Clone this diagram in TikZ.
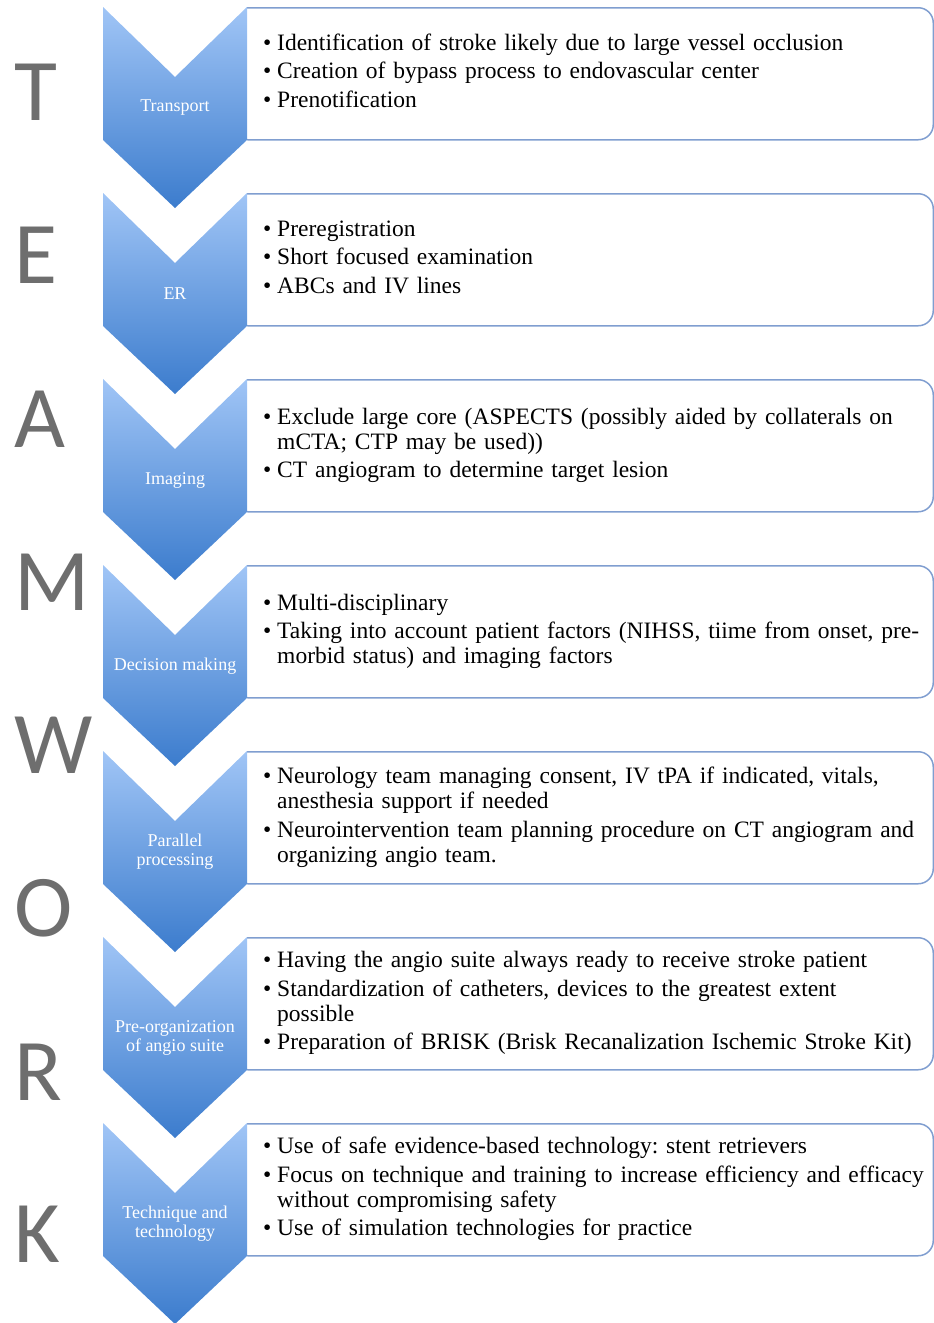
\documentclass[tikz,border=0pt]{standalone}
\usepackage{fontspec}
\setmainfont{Liberation Serif}
\newfontfamily\letterfont{Carlito}
\usepackage{tikz}
\definecolor{chevtop}{RGB}{160,197,246}
\definecolor{chevbot}{RGB}{60,124,205}
\definecolor{boxline}{RGB}{128,158,208}
\definecolor{lettergray}{RGB}{110,110,110}
\tikzset{stepbox/.style={draw=boxline, line width=1.5pt, rounded corners=15pt,
    anchor=north west, minimum width=700.5pt, minimum height=132pt,
    inner xsep=30pt, inner ysep=0pt, text width=640pt, align=left,
    font=\fontsize{23.5}{25}\selectfont\frenchspacing},
    steplabel/.style={text=white, align=center, font=\fontsize{18}{19}\selectfont},
    bigletter/.style={anchor=base west, inner sep=0pt, text=lettergray,
    font=\letterfont\fontsize{88}{88}\selectfont},
    chevron/.pic={\shade[top color=chevtop, bottom color=chevbot]
        (-72,0) -- (0,70) -- (72,0) -- (72,133) -- (0,201) -- (-72,133) -- cycle;},
    }
\newcommand{\bl}{\textbullet &}

\begin{document}
\begin{tikzpicture}[x=1pt,y=-1pt]
\useasboundingbox (0,0) rectangle (934,1323);

% boxes, left side hidden under the chevrons
\begin{scope}
\clip (247,0) rectangle (934,1323);
\node (box1) [stepbox] at (232,7) {\begin{tabular}{@{}l@{\hspace{6pt}}l@{}}
\bl Identification of stroke likely due to large vessel occlusion\\[3.5pt]
\bl Creation of bypass process to endovascular center\\[3.5pt]
\bl Prenotification
\end{tabular}};
\node (box2) [stepbox] at (232,193) {\begin{tabular}{@{}l@{\hspace{6pt}}l@{}}
\bl Preregistration\\[3.5pt]
\bl Short focused examination\\[3.5pt]
\bl ABCs and IV lines
\end{tabular}};
\node (box3) [stepbox] at (232,379) {\begin{tabular}{@{}l@{\hspace{6pt}}l@{}}
\bl Exclude large core (ASPECTS (possibly aided by collaterals on\\
 & mCTA; CTP may be used))\\[3.5pt]
\bl CT angiogram to determine target lesion
\end{tabular}};
\node (box4) [stepbox] at (232,565) {\begin{tabular}{@{}l@{\hspace{6pt}}l@{}}
\bl Multi-disciplinary\\[3.5pt]
\bl Taking into account patient factors (NIHSS, tiime from onset, pre-\\
 & morbid status) and imaging factors
\end{tabular}};
\node (box5) [stepbox] at (232,751) {\begin{tabular}{@{}l@{\hspace{6pt}}l@{}}
\bl Neurology team managing consent, IV tPA if indicated, vitals,\\
 & anesthesia support if needed\\[3.5pt]
\bl Neurointervention team planning procedure on CT angiogram and\\
 & organizing angio team.
\end{tabular}};
\node (box6) [stepbox] at (232,937) {\begin{tabular}{@{}l@{\hspace{6pt}}l@{}}
\bl Having the angio suite always ready to receive stroke patient\\[3.5pt]
\bl Standardization of catheters, devices to the greatest extent\\
 & possible\\[3.5pt]
\bl Preparation of BRISK (Brisk Recanalization Ischemic Stroke Kit)
\end{tabular}};
\node (box7) [stepbox] at (232,1123) {\begin{tabular}{@{}l@{\hspace{6pt}}l@{}}
\bl Use of safe evidence-based technology: stent retrievers\\[3.5pt]
\bl Focus on technique and training to increase efficiency and efficacy\\
 & without compromising safety\\[3.5pt]
\bl Use of simulation technologies for practice
\end{tabular}};
\end{scope}

% chevrons
\pic at (175,7) {chevron};
\pic at (175,193) {chevron};
\pic at (175,379) {chevron};
\pic at (175,565) {chevron};
\pic at (175,751) {chevron};
\pic at (175,937) {chevron};
\pic at (175,1123) {chevron};

\node (lab1) [steplabel] at (175,108) {Transport};
\node (lab2) [steplabel] at (175,294) {ER};
\node (lab3) [steplabel] at (175,480) {Imaging};
\node (lab4) [steplabel] at (175,666) {Decision making};
\node (lab5) [steplabel] at (175,852) {Parallel\\processing};
\node (lab6) [steplabel] at (175,1038) {Pre-organization\\of angio suite};
\node (lab7) [steplabel] at (175,1224) {Technique and\\technology};

% TEAMWORK
\node (tT) [bigletter] at (14,120) {T};
\node (tE) [bigletter] at (14,283) {E};
\node (tA) [bigletter] at (14,447) {A};
\node (tM) [bigletter] at (14,610) {M};
\node (tW) [bigletter] at (14,773) {W};
\node (tO) [bigletter] at (14,936) {O};
\node (tR) [bigletter] at (14,1100) {R};
\node (tK) [bigletter] at (14,1262) {K};
\end{tikzpicture}
\end{document}
